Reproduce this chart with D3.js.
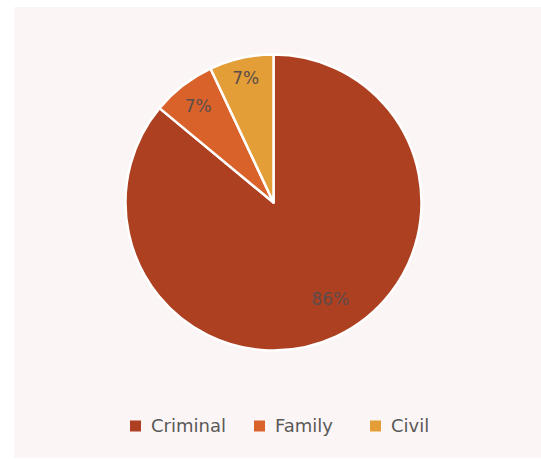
<!DOCTYPE html>
<html>
<head>
<meta charset="utf-8">
<script src="https://cdn.jsdelivr.net/npm/d3@7"></script>
<style>
  body { margin: 0; background: #fff; }
  text { font-family: "DejaVu Sans", "Lato", sans-serif; }
</style>
</head>
<body>
<div class="chart"></div>
<script>
// slices
var categories = ["Criminal", "Family", "Civil"]
var values = [86, 7, 7]
var colors = ["#ae4022", "#d9622b", "#e39e37"]

var width = 541, height = 459;

var svg = d3.select(".chart")
    .append("svg")
    .attr("width", width)
    .attr("height", height);

// panel background
svg.append("rect")
    .attr("x", 14)
    .attr("y", 7)
    .attr("width", width - 14)
    .attr("height", height - 8)
    .style("fill", "#fcf5f5");

var radius = 148;
var g = svg.append("g")
    .attr("transform", "translate(" + 273.5 + "," + 202.5 + ")");

var pie = d3.pie().sort(null).value(function (d) { return d; });
var arcs = pie(values);

var arc = d3.arc().innerRadius(0).outerRadius(radius);

// label placement (fraction of radius, small nudge in px)
var labelR = [0.76, 0.83, 0.86];
var labelNudge = [[9, -5], [0, 0], [0, 0]];

var total = d3.sum(values);

g.selectAll("path")
    .data(arcs)
    .join("path")
    .attr("d", arc)
    .style("fill", function (d, i) { return colors[i] })
    .style("stroke", "#ffffff")
    .style("stroke-width", 2.5)
    .style("stroke-linejoin", "round");

g.selectAll("text.lbl")
    .data(arcs)
    .join("text")
    .attr("class", "lbl")
    .attr("transform", function (d, i) {
        var r = radius * labelR[i];
        var c = d3.arc().innerRadius(r).outerRadius(r).centroid(d);
        return "translate(" + (c[0] + labelNudge[i][0]) + "," + (c[1] + labelNudge[i][1]) + ")";
    })
    .attr("text-anchor", "middle")
    .attr("dy", "0.36em")
    .style("font-size", "17px")
    .style("fill", "#5b4d4b")
    .text(function (d) { return Math.round(d.value / total * 100) + "%" });

// legend
var legendX = [130, 254, 370];
var legend = svg.append("g").attr("transform", "translate(0,426)");

var items = legend.selectAll("g")
    .data(categories)
    .join("g")
    .attr("transform", function (d, i) { return "translate(" + legendX[i] + ",0)" });

items.append("rect")
    .attr("x", 0)
    .attr("y", -5.5)
    .attr("width", 11)
    .attr("height", 11)
    .style("fill", function (d, i) { return colors[i] });

items.append("text")
    .attr("x", 21)
    .attr("dy", "0.36em")
    .style("font-size", "18px")
    .style("fill", "#595959")
    .text(function (d) { return d });
</script>
</body>
</html>
